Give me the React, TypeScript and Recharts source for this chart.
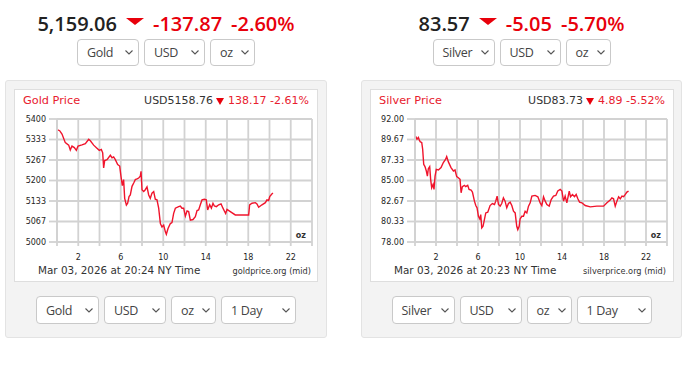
import { LineChart, Line, XAxis, YAxis, CartesianGrid } from 'recharts';

// hours since midnight (NY time) and spot price
const goldHours = [
  0.06, 0.25, 0.47, 0.78, 1.1, 1.25, 1.41, 1.63, 1.82, 1.98, 2.35, 2.67, 2.98, 3.14, 3.45, 3.76, 3.98,
  4.17, 4.3, 4.39, 4.49, 4.71, 5.02, 5.18, 5.33, 5.49, 5.71, 5.9, 6.02, 6.15, 6.27, 6.37, 6.53, 6.65,
  6.78, 6.9, 7.06, 7.22, 7.37, 7.53, 7.69, 7.84, 7.91, 8.0, 8.16, 8.31, 8.47, 8.63, 8.78, 8.94, 9.1,
  9.25, 9.41, 9.57, 9.73, 9.88, 10.04, 10.2, 10.29, 10.45, 10.67, 10.82, 10.98, 11.14, 11.45, 11.61,
  11.76, 11.92, 12.08, 12.24, 12.39, 12.55, 12.8, 13.02, 13.18, 13.33, 13.49, 13.65, 13.87, 14.05,
  14.18, 14.37, 14.53, 14.68, 14.81, 15.0, 15.22, 15.44, 15.62, 15.75, 15.87, 16.0, 16.31, 16.78,
  17.25, 18.04, 18.13, 18.35, 18.67, 18.82, 18.98, 19.29, 19.61, 19.76, 19.92, 20.02, 20.24, 20.33,
];
const goldPrices = [
  5365, 5362, 5351, 5323, 5315, 5299, 5312, 5307, 5298, 5312, 5316, 5320, 5334, 5329, 5315, 5305, 5298,
  5301, 5290, 5241, 5265, 5268, 5282, 5274, 5277, 5268, 5252, 5247, 5214, 5183, 5203, 5142, 5120, 5126,
  5148, 5153, 5181, 5192, 5203, 5205, 5208, 5214, 5230, 5170, 5164, 5170, 5179, 5153, 5142, 5159, 5164,
  5139, 5137, 5110, 5060, 5049, 5055, 5033, 5025, 5044, 5060, 5063, 5093, 5110, 5115, 5117,
  5110, 5110, 5084, 5101, 5099, 5071, 5073, 5082, 5102, 5104, 5121, 5137, 5139, 5137,
  5104, 5121, 5110, 5126, 5117, 5115, 5121, 5124, 5110, 5101, 5093, 5106, 5099, 5088,
  5088, 5088, 5121, 5126, 5128, 5124, 5113, 5121, 5128, 5137, 5135, 5148, 5157, 5159,
];

const silverHours = [
  0.06, 0.19, 0.32, 0.41, 0.51, 0.64, 0.73, 0.83, 0.95, 1.08, 1.18, 1.27, 1.4, 1.49, 1.59, 1.72, 1.81,
  1.91, 2.03, 2.23, 2.48, 2.7, 2.92, 3.02, 3.18, 3.43, 3.66, 3.81, 3.97, 4.13, 4.29, 4.39, 4.51, 4.7,
  4.83, 5.02, 5.15, 5.34, 5.47, 5.66, 5.79, 5.91, 6.04, 6.17, 6.26, 6.36, 6.48, 6.61, 6.74, 6.93, 7.15,
  7.37, 7.57, 7.69, 7.82, 7.95, 8.11, 8.26, 8.42, 8.58, 8.74, 8.9, 9.06, 9.22, 9.38, 9.54, 9.69, 9.79,
  9.92, 10.01, 10.17, 10.33, 10.49, 10.65, 10.81, 10.97, 11.13, 11.44, 11.7, 11.92, 12.08, 12.24, 12.4,
  12.56, 12.78, 12.97, 13.19, 13.41, 13.6, 13.83, 13.99, 14.15, 14.3, 14.46, 14.69, 14.81, 15.0, 15.19,
  15.35, 15.51, 15.67, 15.89, 16.21, 16.69, 17.32, 17.96, 18.28, 18.59, 18.75, 18.91, 19.07, 19.23,
  19.39, 19.55, 19.71, 19.87, 20.03, 20.18, 20.34,
];
const silverPrices = [
  90.02, 89.71, 89.9, 89.6, 89.4, 89.33, 88.56, 86.85, 86.58, 86.08, 85.5, 86.35, 86.58, 85.13, 84.18, 84.56, 83.99,
  85.5, 86.27, 86.2, 86.47, 87.04, 87.42, 87.73, 87.12, 86.47, 86.08, 86.2, 85.44, 85.32, 85.13, 83.6, 84.3, 84.45,
  84.3, 84.45, 83.99, 83.92, 83.68, 82.65, 82.15, 81.89, 80.93, 80.62, 81.12, 79.6, 79.79, 80.55, 81.31, 81.39, 82.15,
  82.38, 82.27, 82.65, 83.22, 82.27, 82.08, 82.38, 83.03, 82.65, 81.89, 82.38, 82.54, 82.15, 81.5, 81.31, 79.79, 79.41,
  79.79, 80.62, 80.93, 80.93, 81.5, 81.31, 82.08, 82.46, 83.22, 83.3, 83.15, 82.46, 82.15, 83.15, 82.65,
  82.27, 82.08, 82.84, 83.22, 83.3, 83.8, 83.99, 83.8, 82.65, 83.22, 82.46, 83.8, 83.15, 83.41, 83.15,
  83.41, 82.92, 82.54, 82.46, 82.15, 82.0, 82.08, 82.08, 82.46, 82.77, 83.03, 82.92, 82.08, 82.65,
  83.15, 82.92, 83.22, 83.15, 83.41, 83.68, 83.8,
];

const xTicks = [0, 2, 4, 6, 8, 10, 12, 14, 16, 18, 20, 22, 24];
const xLabels = [2, 6, 10, 14, 18, 22];
const goldTicks = [5000, 5066.667, 5133.333, 5200, 5266.667, 5333.333, 5400];
const silverTicks = [78, 80.333, 82.667, 85, 87.333, 89.667, 92];

const topSelects = { gold: ['Gold', 'USD', 'oz'], silver: ['Silver', 'USD', 'oz'] };
const bottomSelects = { gold: ['Gold', 'USD', 'oz', '1 Day'], silver: ['Silver', 'USD', 'oz', '1 Day'] };
const topWidths = [62, 61, 45];
const bottomWidths = [63, 62, 45, 75];

const RED = '#e8000b';
const LINE = '#f0142c';
const GRID = '#d2d2d2';
const CHART_FONT = '"DejaVu Sans", Verdana, sans-serif';

const Triangle = ({ w, h }: { w: number; h: number }) => (
  <svg width={w} height={h} style={{ display: 'block' }}>
    <polygon points={`0,0 ${w},0 ${w / 2},${h}`} fill={RED} />
  </svg>
);

const Select = ({ label, width, height }: { label: string; width: number; height: number }) => (
  <div
    style={{
      width, height, boxSizing: 'border-box', border: '1px solid #c9c9c9', borderRadius: 4,
      background: '#fff', display: 'flex', alignItems: 'center', justifyContent: 'space-between',
      padding: '0 5px 0 9px', fontFamily: '"Open Sans", sans-serif', fontSize: 12.5,
      letterSpacing: -0.3, color: '#444',
    }}
  >
    <span>{label}</span>
    <svg width={8} height={5}>
      <polyline points="0.5,0.5 4,4 7.5,0.5" fill="none" stroke="#555" strokeWidth={1.1} />
    </svg>
  </div>
);

const Row = ({ center, top, labels, widths, height }: {
  center: number; top: number; labels: string[]; widths: number[]; height: number;
}) => (
  <div
    style={{
      position: 'absolute', left: center - 200, width: 400, top, display: 'flex',
      justifyContent: 'center', gap: 5,
    }}
  >
    {labels.map((l, i) => <Select key={l + i} label={l} width={widths[i]} height={height} />)}
  </div>
);

interface PanelProps {
  left: number;
  width: number;
  boxLeft: number;
  boxWidth: number;
  plotLeft: number;
  plotRight: number;
  title: string;
  price: string;
  change: string;
  pct: string;
  quote: string;
  qChange: string;
  qPct: string;
  stamp: string;
  source: string;
  hours: number[];
  prices: number[];
  yTicks: number[];
  yFormat: (v: number) => string;
  tops: string[];
  bottoms: string[];
}

const Panel = (p: PanelProps) => {
  const center = p.left + p.width / 2;
  const data = p.hours.map((h, i) => ({ h, p: p.prices[i] }));
  const chartLeft = p.boxLeft + 1;
  const boxRight = p.boxLeft + p.boxWidth;
  const chartWidth = boxRight - 1 - chartLeft;
  const tickStyle = { fontSize: 8, fontFamily: CHART_FONT, fill: '#1e1e1e' };
  return (
    <>
      {/* headline */}
      <div
        style={{
          position: 'absolute', left: center - 200, width: 400, top: 10, display: 'flex',
          justifyContent: 'center', gap: 9, fontFamily: '"Open Sans", sans-serif', fontWeight: 600,
          fontSize: 20, lineHeight: '28px', whiteSpace: 'nowrap',
        }}
      >
        <span style={{ color: '#222' }}>{p.price}</span>
        <div style={{ marginTop: 8 }}><Triangle w={18} h={7} /></div>
        <span style={{ color: RED }}>{p.change}</span>
        <span style={{ color: RED }}>{p.pct}</span>
      </div>
      <Row center={center} top={39} labels={p.tops} widths={topWidths} height={27} />

      {/* panel */}
      <div
        style={{
          position: 'absolute', left: p.left, top: 80, width: p.width, height: 258, boxSizing: 'border-box',
          background: '#f3f3f3', border: '1px solid #e3e3e3', borderRadius: 3,
        }}
      />
      <div
        style={{
          position: 'absolute', left: p.boxLeft, top: 89, width: p.boxWidth, height: 193,
          boxSizing: 'border-box', background: '#fff', border: '1px solid #dedede',
        }}
      />
      <div
        style={{
          position: 'absolute', left: p.boxLeft + 9, top: 94, fontFamily: CHART_FONT, fontSize: 11.3,
          lineHeight: '13px', color: '#e8202e', whiteSpace: 'nowrap',
        }}
      >
        {p.title}
      </div>
      <div
        style={{
          position: 'absolute', right: 690 - (boxRight - 9), top: 94, fontFamily: CHART_FONT, fontSize: 11,
          lineHeight: '13px', color: '#333', whiteSpace: 'nowrap', display: 'flex', alignItems: 'center',
        }}
      >
        <span>{p.quote}</span>
        <span style={{ margin: '1px 4px 0 3px' }}><Triangle w={8} h={7} /></span>
        <span style={{ color: '#e8202e' }}>{p.qChange} {p.qPct}</span>
      </div>

      <div style={{ position: 'absolute', left: chartLeft, top: 90 }}>
        <LineChart
          width={chartWidth}
          height={192}
          data={data}
          margin={{ top: 29, right: chartLeft + chartWidth - p.plotRight, bottom: 0, left: 0 }}
        >
          <CartesianGrid stroke={GRID} strokeWidth={1.8} />
          <XAxis
            dataKey="h"
            type="number"
            domain={[0, 24]}
            ticks={xTicks}
            interval={0}
            height={40}
            tickSize={4}
            tickMargin={8}
            stroke={GRID}
            axisLine={{ stroke: GRID, strokeWidth: 1.8 }}
            tickLine={{ stroke: GRID, strokeWidth: 1.8 }}
            tick={tickStyle}
            tickFormatter={(v: number) => (xLabels.includes(v) ? String(v) : '')}
          />
          <YAxis
            type="number"
            domain={[p.yTicks[0], p.yTicks[p.yTicks.length - 1]]}
            ticks={p.yTicks}
            interval={0}
            width={p.plotLeft - chartLeft}
            tickSize={8}
            tickMargin={3}
            axisLine={{ stroke: GRID, strokeWidth: 1.8 }}
            tickLine={{ stroke: GRID, strokeWidth: 1.8 }}
            tick={tickStyle}
            tickFormatter={p.yFormat}
          />
          <Line
            type="linear"
            dataKey="p"
            stroke={LINE}
            strokeWidth={1.4}
            dot={false}
            isAnimationActive={false}
          />
        </LineChart>
      </div>
      <div
        style={{
          position: 'absolute', right: 690 - (p.plotRight - 6), top: 231, fontFamily: CHART_FONT,
          fontSize: 8, fontWeight: 700, color: '#333', lineHeight: '10px',
        }}
      >
        oz
      </div>
      <div
        style={{
          position: 'absolute', left: p.boxLeft + 24, top: 264, fontFamily: CHART_FONT, fontSize: 10.4,
          lineHeight: '12px', color: '#333', whiteSpace: 'nowrap',
        }}
      >
        {p.stamp}
      </div>
      <div
        style={{
          position: 'absolute', right: 690 - (p.plotRight - 1), top: 266, fontFamily: CHART_FONT, fontSize: 8.2,
          lineHeight: '10px', color: '#333', whiteSpace: 'nowrap',
        }}
      >
        {p.source}
      </div>
      <Row center={center} top={296} labels={p.bottoms} widths={bottomWidths} height={28} />
    </>
  );
};

export default function App() {
  return (
    <div style={{ position: 'absolute', left: 0, top: 0, width: 690, height: 367, background: '#fff', overflow: 'hidden' }}>
      <Panel
        left={5}
        width={322}
        boxLeft={14}
        boxWidth={304}
        plotLeft={57}
        plotRight={312}
        title="Gold Price"
        price="5,159.06"
        change="-137.87"
        pct="-2.60%"
        quote="USD5158.76"
        qChange="138.17"
        qPct="-2.61%"
        stamp="Mar 03, 2026 at 20:24 NY Time"
        source="goldprice.org (mid)"
        hours={goldHours}
        prices={goldPrices}
        yTicks={goldTicks}
        yFormat={(v: number) => String(Math.round(v))}
        tops={topSelects.gold}
        bottoms={bottomSelects.gold}
      />
      <Panel
        left={361}
        width={321}
        boxLeft={370}
        boxWidth={304}
        plotLeft={415}
        plotRight={667}
        title="Silver Price"
        price="83.57"
        change="-5.05"
        pct="-5.70%"
        quote="USD83.73"
        qChange="4.89"
        qPct="-5.52%"
        stamp="Mar 03, 2026 at 20:23 NY Time"
        source="silverprice.org (mid)"
        hours={silverHours}
        prices={silverPrices}
        yTicks={silverTicks}
        yFormat={(v: number) => v.toFixed(2)}
        tops={topSelects.silver}
        bottoms={bottomSelects.silver}
      />
    </div>
  );
}
